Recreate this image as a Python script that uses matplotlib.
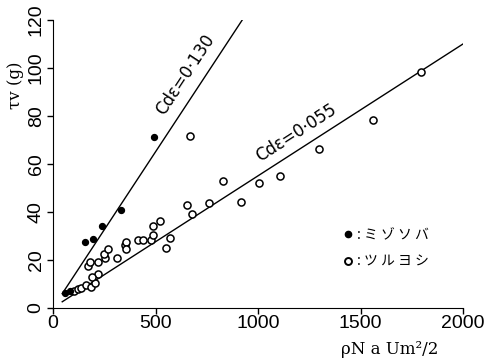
import matplotlib
matplotlib.use("Agg")
import matplotlib.pyplot as plt
from matplotlib.lines import Line2D
import numpy as np

plt.rcParams['font.family'] = ['Liberation Sans', 'DejaVu Sans', 'Noto Sans CJK JP']

# ミゾソバ (filled)
mizo_x = [60, 85, 157, 193, 240, 334, 491]
mizo_y = [6.0, 6.8, 27.2, 28.7, 33.9, 40.9, 71.4]

# ツルヨシ (open)
turu_x = [100, 120, 136, 161, 185, 206, 220, 190, 169, 182, 220, 253, 247, 269,
          311, 350, 354, 355, 417, 440, 480, 488, 488, 521, 550, 573, 652, 667,
          680, 762, 830, 918, 1004, 1106, 1296, 1560, 1796]
turu_y = [7.0, 7.7, 8.1, 9.5, 8.8, 10.1, 14.1, 13.0, 17.4, 19.1, 19.0, 20.7, 22.5, 24.6,
          20.8, 26.1, 27.6, 24.4, 28.3, 28.3, 28.3, 30.4, 33.9, 36.1, 24.8, 28.9, 42.8, 71.5,
          39.2, 43.7, 52.7, 43.9, 52.0, 54.8, 66.0, 78.2, 98.5]

# fitted lines tau = Cd * rhoNaU^2/2
cd_values = [0.130, 0.055]
cd_labels = ["Cdε=0·130", "Cdε=0·055"]
line_x_end = [923, 2000]

fig = plt.figure(figsize=(4.87, 3.6), dpi=100)
ax = fig.add_axes([53 / 487, 1 - 307.7 / 360, 410 / 487, 287.7 / 360])

for cd, xe in zip(cd_values, line_x_end):
    xs = np.array([45, xe])
    ax.plot(xs, cd * xs, color='black', lw=1.0)

ax.scatter(turu_x, turu_y, s=26, facecolors='white', edgecolors='black', linewidths=1.1, zorder=3)
ax.scatter(mizo_x, mizo_y, s=18, color='black', zorder=4)

ax.set_xlim(0, 2000)
ax.set_ylim(0, 120)
ax.set_xticks([0, 500, 1000, 1500, 2000])
ax.set_yticks(range(0, 121, 20))
for s in ['top', 'right']:
    ax.spines[s].set_visible(False)
ax.tick_params(axis='both', direction='out', length=4, width=1.0, labelsize=14)
ax.tick_params(axis='x', pad=1)
ax.tick_params(axis='y', pad=2)
for lab in ax.get_yticklabels():
    lab.set_rotation(90)
    lab.set_va('center')

# annotations along the lines
fig.canvas.draw()
for cd, lbl, (tx, ty) in zip(cd_values, cd_labels, [(647, 97.4), (1187, 73.0)]):
    p0 = ax.transData.transform((0, 0))
    p1 = ax.transData.transform((1000, cd * 1000))
    ang = np.degrees(np.arctan2(p1[1] - p0[1], p1[0] - p0[0]))
    ax.text(tx, ty, lbl, rotation=ang, rotation_mode='anchor', ha='center', va='center',
            fontsize=12, family=['DejaVu Sans'])

handles = [Line2D([], [], ls='none', marker='o', color='black', markersize=4.5),
           Line2D([], [], ls='none', marker='o', markerfacecolor='white',
                  markeredgecolor='black', markeredgewidth=1.4, markersize=5)]
ax.legend(handles, [": ミ ゾ ソ バ", ": ツ ル ヨ シ"], loc='center left',
          bbox_to_anchor=(0.68, 0.207), frameon=False, handlelength=0.6,
          handletextpad=0.3, labelspacing=0.9, prop={'family': ['Noto Sans CJK JP'], 'size': 10})

fig.text(15 / 487, 1 - 85 / 360, "τv (g)", rotation=90, ha='center', va='center',
         fontsize=12, family=['DejaVu Serif'])
fig.text(390 / 487, 1 - 350 / 360, "ρN a Um²/2", ha='center', va='center',
         fontsize=12, family=['DejaVu Serif'])

fig.savefig("out.png", dpi=100)
